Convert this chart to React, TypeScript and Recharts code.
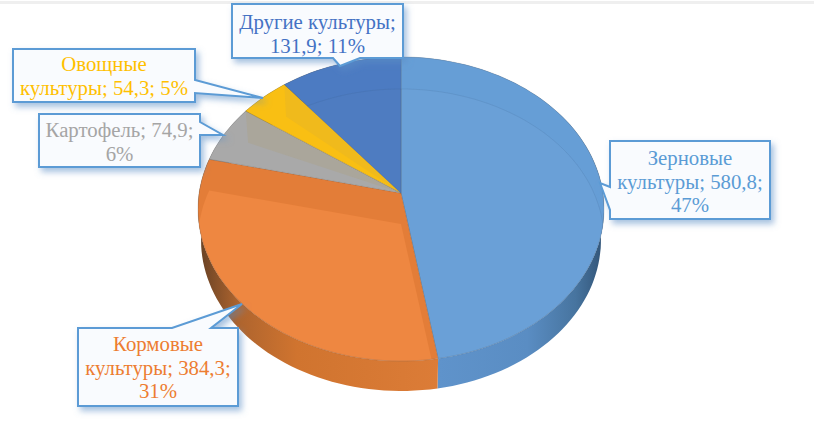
import { PieChart, Pie } from "recharts";

const categories = ["Зерновые культуры", "Кормовые культуры", "Картофель", "Овощные культуры", "Другие культуры"];
const values = [580.8, 384.3, 74.9, 54.3, 131.9];

const labelLines = [
  ["Зерновые", "культуры; 580,8;", "47%"],
  ["Кормовые", "культуры; 384,3;", "31%"],
  ["Картофель; 74,9;", "6%"],
  ["Овощные", "культуры; 54,3; 5%"],
  ["Другие культуры;", "131,9; 11%"],
];

const textColors = ["#5b9bd5", "#ed7d31", "#a5a5a5", "#ffc000", "#4472c4"];
const faceColors = ["#6aa0d7", "#ee8741", "#aaa69b", "#f0ba1c", "#4e7cc1"];
const bandColors = ["#669ed6", "#e37d38", "#a9a9a9", "#f9bf13", "#4c7bc2"];

// callout outlines, box plus pointer
const callouts = [
  "610,141 770,141 770,219 610,219 610,210 600,183 610,187",
  "78,328 172,328 242,304 211,328 238,328 238,406 78,406",
  "39,114 200,114 200,122 223,135 200,135 200,167 39,167",
  "13,49 195,49 195,80 263,98 195,93 195,102 13,102",
  "232,4 403,4 403,58 360,58 340,66 333,58 232,58",
];
const textX = [690, 158, 119.5, 104, 317.5];
const textY = [165, 351, 137, 71, 29];
const lineGap = 23.6;

const TILT = 0.749;
const LOWER_TILT = 0.755;
const INNER_TILT = 0.744;
const PERSP = 0.105;
const LOWER_DY = 31;
const LOWER_SCALE = 0.985;

const tableData = categories.map((name, i) => ({ name, value: values[i] }));

type Pt = [number, number];

// perspective projection of a disc edge point, so the apex sits above the ellipse centre
const project = (cx: number, cy: number, r: number, deg: number, tilt = TILT): Pt => {
  const rad = (deg * Math.PI) / 180;
  const u = Math.cos(rad);
  const v = Math.sin(rad);
  const d = 1 + PERSP * v;
  return [cx + (r * u * Math.sqrt(1 - PERSP * PERSP)) / d, cy - (r * tilt * (v + PERSP)) / d];
};

const arc = (cx: number, cy: number, r: number, from: number, to: number, tilt = TILT): Pt[] => {
  const n = Math.max(2, Math.ceil(Math.abs(to - from) / 2));
  const pts: Pt[] = [];
  for (let i = 0; i <= n; i++) pts.push(project(cx, cy, r, from + ((to - from) * i) / n, tilt));
  return pts;
};

const toPath = (pts: Pt[]) => "M" + pts.map((p) => p[0].toFixed(1) + " " + p[1].toFixed(1)).join("L") + "Z";

const sectorPath = (cx: number, cy: number, r: number, from: number, to: number, tilt = TILT) =>
  toPath([[cx, cy - r * tilt * PERSP], ...arc(cx, cy, r, from, to, tilt)]);

const TopFace = (props: any) => {
  const { cx, cy, outerRadius, startAngle, endAngle, name } = props;
  const i = categories.indexOf(name);
  const top = sectorPath(cx, cy, outerRadius, startAngle, endAngle);
  // the small slices only show the cut face of their far edge through the top
  const narrow = i === 2 || i === 3;
  const inner = narrow
    ? toPath([
        [cx, cy - outerRadius * TILT * PERSP],
        project(cx, cy, outerRadius, endAngle),
        project(cx, cy + LOWER_DY, outerRadius * LOWER_SCALE, endAngle, LOWER_TILT),
      ])
    : sectorPath(cx, cy + LOWER_DY, outerRadius, startAngle, endAngle, INNER_TILT);
  const blue = i === 0 || i === 4;
  return (
    <g>
      <clipPath id={"top-" + i}>
        <path d={top} />
      </clipPath>
      <path d={top} fill={bandColors[i]} />
      <path
        d={inner}
        fill={faceColors[i]}
        stroke={blue ? "#3f5f85" : "none"}
        strokeOpacity={0.15}
        clipPath={`url(#top-${i})`}
      />
      <path d={top} fill="none" stroke="#5a5a5a" strokeOpacity={0.22} strokeWidth={1} />
    </g>
  );
};

const SideWall = (props: any) => {
  const { cx, cy, outerRadius, startAngle, endAngle, name } = props;
  const i = categories.indexOf(name);
  const upper = arc(cx, cy, outerRadius, startAngle, endAngle);
  const bottom = arc(cx, cy + LOWER_DY, outerRadius * LOWER_SCALE, startAngle, endAngle, LOWER_TILT).reverse();
  return <path d={toPath([...upper, ...bottom])} fill={`url(#wall-${i})`} />;
};

const renderCallout = (props: any) => {
  const i = categories.indexOf(props.name);
  return (
    <g>
      <polygon
        points={callouts[i]}
        fill="#f9fbfe"
        stroke="#5b9bd5"
        strokeWidth={2}
        filter="url(#calloutShadow)"
      />
      <text
        x={textX[i]}
        y={textY[i]}
        textAnchor="middle"
        fontFamily="'Liberation Serif', serif"
        fontSize={20.8}
        fill={textColors[i]}
      >
        {labelLines[i].map((line, k) => (
          <tspan key={k} x={textX[i]} y={textY[i] + k * lineGap}>
            {line}
          </tspan>
        ))}
      </text>
    </g>
  );
};

export default function App() {
  return (
    <div style={{ position: "absolute", left: 0, top: 0, width: 814, height: 429, background: "#fff" }}>
      <div style={{ position: "absolute", left: 0, top: 1, width: 814, height: 3, background: "#efefef" }} />
      <div style={{ position: "absolute", left: 0, top: 0 }}>
        <PieChart width={814} height={429} margin={{ top: 0, right: 0, bottom: 0, left: 0 }}>
          <defs>
            <linearGradient id="wall-0" gradientUnits="userSpaceOnUse" x1="438" y1="0" x2="600" y2="0">
              <stop offset="0" stopColor="#5f93cb" />
              <stop offset="0.55" stopColor="#5a8dc3" />
              <stop offset="0.85" stopColor="#47749f" />
              <stop offset="1" stopColor="#34587c" />
            </linearGradient>
            <linearGradient id="wall-1" gradientUnits="userSpaceOnUse" x1="203" y1="0" x2="438" y2="0">
              <stop offset="0" stopColor="#6e4526" />
              <stop offset="0.15" stopColor="#ae642e" />
              <stop offset="0.4" stopColor="#d0742f" />
              <stop offset="1" stopColor="#dc7c37" />
            </linearGradient>
            <linearGradient id="wall-2" x1="0" y1="0" x2="1" y2="0">
              <stop offset="0" stopColor="#8c8c8c" />
            </linearGradient>
            <linearGradient id="wall-3" x1="0" y1="0" x2="1" y2="0">
              <stop offset="0" stopColor="#c79a10" />
            </linearGradient>
            <linearGradient id="wall-4" x1="0" y1="0" x2="1" y2="0">
              <stop offset="0" stopColor="#3c6299" />
            </linearGradient>
            <filter id="calloutShadow" x="-10%" y="-15%" width="125%" height="140%">
              <feDropShadow dx="3" dy="4" stdDeviation="3" floodColor="#5b8fc6" floodOpacity="0.55" />
            </filter>
          </defs>
          <Pie
            data={tableData}
            dataKey="value"
            nameKey="name"
            cx={401}
            cy={209}
            outerRadius={203}
            startAngle={90}
            endAngle={-270}
            stroke="none"
            shape={SideWall}
            isAnimationActive={false}
          />
          <Pie
            data={tableData}
            dataKey="value"
            nameKey="name"
            cx={401}
            cy={209}
            outerRadius={203}
            startAngle={90}
            endAngle={-270}
            stroke="none"
            shape={TopFace}
            label={renderCallout}
            labelLine={false}
            isAnimationActive={false}
          />
        </PieChart>
      </div>
    </div>
  );
}
